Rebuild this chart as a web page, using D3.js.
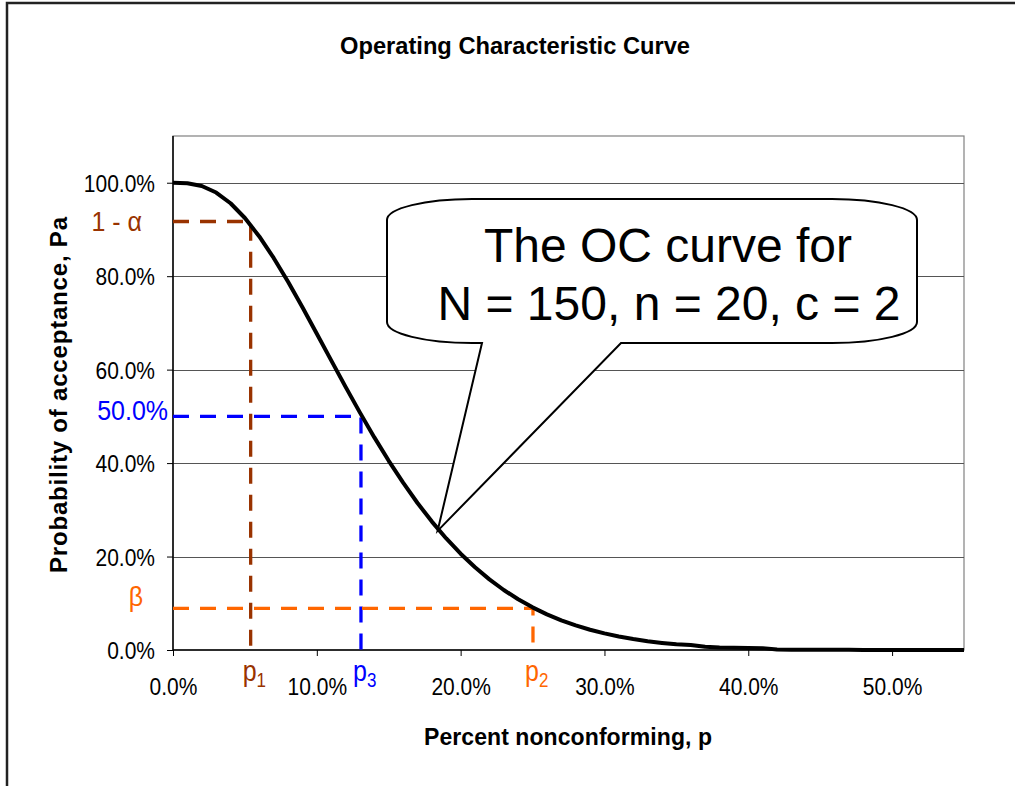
<!DOCTYPE html>
<html><head><meta charset="utf-8">
<script src="https://cdn.jsdelivr.net/npm/d3@7"></script>
<style>
html,body{margin:0;padding:0;background:#fff;}
svg{display:block;font-family:"Liberation Sans",Arial,sans-serif;}
</style>
</head><body>
<svg id="chart" width="1015" height="786"></svg>
<script>
// ---------- data ----------
const titleText = "Operating Characteristic Curve";
const xAxisTitle = "Percent nonconforming, p";
const yAxisTitle = "Probability of acceptance, Pa";
const pValues = [0.00,0.01,0.02,0.03,0.04,0.05,0.06,0.07,0.08,0.09,0.10,0.11,0.12,0.13,0.14,0.15,0.16,0.17,0.18,0.19,0.20,0.21,0.22,0.23,0.24,0.25,0.26,0.27,0.28,0.29,0.30,0.31,0.32,0.33,0.34,0.35,0.36,0.37,0.38,0.39,0.40,0.41,0.42,0.43,0.44,0.45,0.46,0.47,0.48,0.49,0.50,0.51,0.52,0.53,0.54,0.55];
const paValues = [1.0000,0.9990,0.9929,0.9790,0.9561,0.9245,0.8850,0.8390,0.7879,0.7335,0.6769,0.6198,0.5631,0.5080,0.4550,0.4049,0.3580,0.3146,0.2748,0.2387,0.2061,0.1770,0.1512,0.1284,0.1085,0.0913,0.0763,0.0635,0.0526,0.0433,0.0355,0.0289,0.0235,0.0189,0.0152,0.0121,0.0105,0.0070,0.0055,0.0050,0.0045,0.0040,0.0010,0.0008,0.0006,0.0005,0.0004,0.0003,0.0002,0.0002,0.0001,0.0001,0.0001,0.0000,0.0000,0.0000];
const xTickValues = [0.0,0.1,0.2,0.3,0.4,0.5];
const yTickValues = [0.0,0.2,0.4,0.6,0.8,1.0];
// reference points: p1 / 1-alpha, p3 / 50%, p2 / beta
const refP = [0.054, 0.1307, 0.2503];
const refPa = [0.917, 0.500, 0.089];
const refYLabels = ["1 - α", "50.0%", "β"];
const refPSub = ["1", "3", "2"];
const calloutLines = ["The OC curve for", "N = 150, n = 20, c = 2"];
const calloutTip = [0.184, 0.255];

// ---------- layout / style ----------
const plot = {left:173, right:964, top:136, bottom:650};
const refColors = ["#993300", "#0000FF", "#FF6600"];
const dash = "16,11";

const svg = d3.select("#chart");
const x = d3.scaleLinear().domain([0, 0.55]).range([plot.left, plot.right]);
const y = d3.scaleLinear().domain([0, 1.1]).range([plot.bottom, plot.top]);

// outer chart frame (only top/left edges visible)
svg.append("rect").attr("x", 7).attr("y", 3).attr("width", 1200).attr("height", 1000)
  .attr("fill", "#fff").attr("stroke", "#222").attr("stroke-width", 2.5);

// plot area
svg.append("rect").attr("x", plot.left).attr("y", plot.top)
  .attr("width", plot.right - plot.left).attr("height", plot.bottom - plot.top)
  .attr("fill", "#fff").attr("stroke", "#808080").attr("stroke-width", 1.2);

// gridlines
svg.append("g").selectAll("line").data(yTickValues.filter(d => d > 0)).join("line")
  .attr("x1", plot.left).attr("x2", plot.right)
  .attr("y1", d => Math.round(y(d)) + 0.5).attr("y2", d => Math.round(y(d)) + 0.5)
  .attr("stroke", "#555").attr("stroke-width", 1);

// axes
const fmt = d3.format(".1%");
const yAxis = svg.append("g").attr("transform", `translate(${plot.left},0)`)
  .call(d3.axisLeft(y).tickValues(yTickValues).tickFormat(fmt).tickSize(6).tickSizeOuter(0));
yAxis.select(".domain").attr("stroke", "#000").attr("stroke-width", 1.5)
  .attr("d", `M0,${plot.top}V${plot.bottom}`);
yAxis.selectAll(".tick line").attr("stroke", "#000");
yAxis.selectAll(".tick text")
  .attr("x", 0).attr("dy", null)
  .attr("transform", "translate(-18,8.5) scale(1,1.12)")
  .attr("font-size", 21).attr("font-family", "Liberation Sans, Arial, sans-serif")
  .attr("fill", "#000");

const xAxis = svg.append("g").attr("transform", `translate(0,${plot.bottom})`)
  .call(d3.axisBottom(x).tickValues(xTickValues).tickFormat(fmt).tickSize(6).tickSizeOuter(0));
xAxis.select(".domain").attr("stroke", "#000").attr("stroke-width", 1.5)
  .attr("d", `M${plot.left},0H${plot.right}`);
xAxis.selectAll(".tick line").attr("stroke", "#000");
xAxis.selectAll(".tick text")
  .attr("y", 0).attr("dy", null)
  .attr("transform", "translate(0,45) scale(1,1.12)")
  .attr("font-size", 21).attr("font-family", "Liberation Sans, Arial, sans-serif")
  .attr("fill", "#000");

// reference dashed lines
refP.forEach((p, i) => {
  svg.append("path")
    .attr("d", `M${plot.left},${y(refPa[i])}H${x(p)}V${plot.bottom}`)
    .attr("fill", "none").attr("stroke", refColors[i]).attr("stroke-width", 3.3)
    .attr("stroke-dasharray", dash);
});

// OC curve
const line = d3.line().x((d, i) => x(pValues[i])).y(d => y(d));
svg.append("path").datum(paValues).attr("d", line)
  .attr("fill", "none").attr("stroke", "#000").attr("stroke-width", 4)
  .attr("stroke-linejoin", "round");

// reference labels on y side
const yLabelPos = [
  {xEnd: 142, dy: 9.5, size: 25},
  {xEnd: 168, dy: 4, size: 25},
  {xEnd: 143, dy: -2, size: 25}
];
refYLabels.forEach((t, i) => {
  const pos = yLabelPos[i];
  svg.append("text")
    .attr("transform", `translate(${pos.xEnd},${y(refPa[i]) + pos.dy}) scale(1,1.1)`)
    .attr("text-anchor", "end").attr("font-size", pos.size)
    .attr("fill", refColors[i]).text(t);
});

// p labels under x axis
refP.forEach((p, i) => {
  const t = svg.append("text")
    .attr("transform", `translate(${x(p) - 8},681) scale(1,1.15)`)
    .attr("font-size", 25).attr("fill", refColors[i]);
  t.append("tspan").text("p");
  t.append("tspan").attr("font-size", 17).attr("dy", 5).text(refPSub[i]);
});

// callout
const box = {left: 387, right: 917, top: 199, bottom: 343, rx: 85, ry: 21, baseL: 482, baseR: 621};
const tipX = x(calloutTip[0]), tipY = y(calloutTip[1]);
const cp = `M${box.left + box.rx},${box.top}H${box.right - box.rx}` +
  `A${box.rx},${box.ry} 0 0 1 ${box.right},${box.top + box.ry}` +
  `V${box.bottom - box.ry}` +
  `A${box.rx},${box.ry} 0 0 1 ${box.right - box.rx},${box.bottom}` +
  `H${box.baseR}L${tipX},${tipY}L${box.baseL},${box.bottom}H${box.left + box.rx}` +
  `A${box.rx},${box.ry} 0 0 1 ${box.left},${box.bottom - box.ry}` +
  `V${box.top + box.ry}` +
  `A${box.rx},${box.ry} 0 0 1 ${box.left + box.rx},${box.top}Z`;
svg.append("path").attr("d", cp).attr("fill", "#fff").attr("stroke", "#000")
  .attr("stroke-width", 2).attr("stroke-linejoin", "miter");
svg.append("text").attr("x", 668).attr("y", 262).attr("text-anchor", "middle")
  .attr("font-size", 48).attr("fill", "#000").text(calloutLines[0]);
svg.append("text").attr("x", 669).attr("y", 320).attr("text-anchor", "middle")
  .attr("font-size", 48).attr("fill", "#000").text(calloutLines[1]);

// titles
svg.append("text").attr("x", 515).attr("y", 54).attr("text-anchor", "middle")
  .attr("font-size", 23).attr("font-weight", "bold")
  .attr("textLength", 350).attr("lengthAdjust", "spacingAndGlyphs")
  .text(titleText);
svg.append("text").attr("x", 568).attr("y", 745).attr("text-anchor", "middle")
  .attr("font-size", 23).attr("font-weight", "bold")
  .attr("textLength", 288).attr("lengthAdjust", "spacing")
  .text(xAxisTitle);
svg.append("text").attr("transform", "translate(67,395) rotate(-90)")
  .attr("text-anchor", "middle").attr("font-size", 24).attr("font-weight", "bold")
  .attr("textLength", 356).attr("lengthAdjust", "spacing")
  .text(yAxisTitle);
</script>
</body></html>
